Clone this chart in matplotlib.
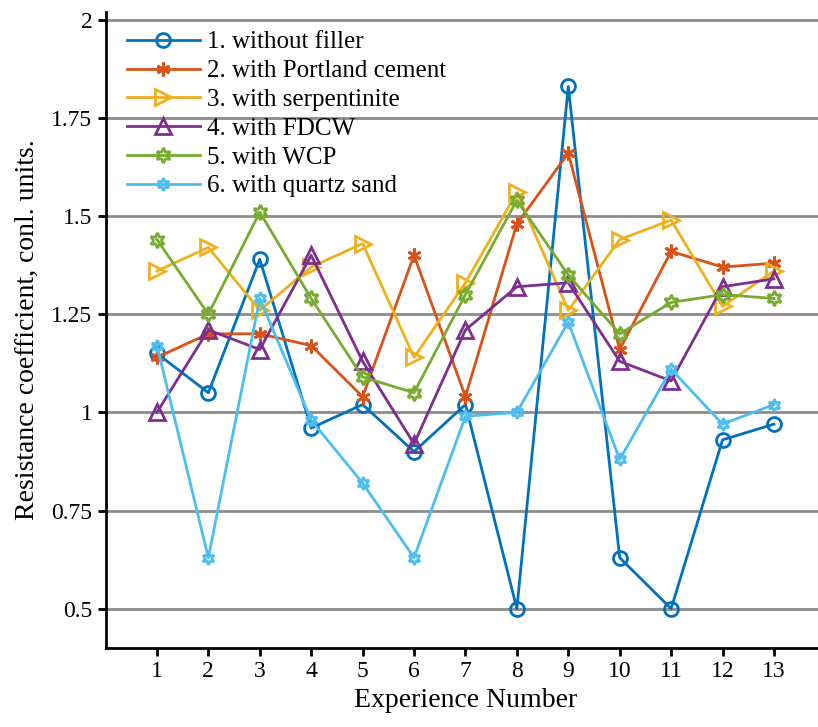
import numpy as np
import matplotlib
matplotlib.use('Agg')
import matplotlib.pyplot as plt

plt.rcParams['font.family'] = ['Liberation Serif', 'DejaVu Serif']

# data
experiments = list(range(1, 14))
without_filler = [1.15, 1.05, 1.39, 0.96, 1.02, 0.90, 1.02, 0.50, 1.83, 0.63, 0.50, 0.93, 0.97]
portland_cement = [1.14, 1.20, 1.20, 1.17, 1.04, 1.40, 1.04, 1.48, 1.66, 1.16, 1.41, 1.37, 1.38]
serpentinite = [1.36, 1.42, 1.26, 1.37, 1.43, 1.14, 1.33, 1.56, 1.26, 1.44, 1.49, 1.27, 1.36]
fdcw = [1.00, 1.21, 1.16, 1.40, 1.13, 0.92, 1.21, 1.32, 1.33, 1.13, 1.08, 1.32, 1.34]
wcp = [1.44, 1.25, 1.51, 1.29, 1.09, 1.05, 1.30, 1.54, 1.35, 1.20, 1.28, 1.30, 1.29]
quartz_sand = [1.17, 0.63, 1.29, 0.98, 0.82, 0.63, 0.99, 1.00, 1.23, 0.88, 1.11, 0.97, 1.02]

labels = ['1. without filler', '2. with Portland cement', '3. with serpentinite',
          '4. with FDCW', '5. with WCP', '6. with quartz sand']
yticks = [0.5, 0.75, 1, 1.25, 1.5, 1.75, 2]
ytick_labels = ['0.5', '0.75', '1', '1.25', '1.5', '1.75', '2']

series = [without_filler, portland_cement, serpentinite, fdcw, wcp, quartz_sand]
colors = ['#0072BD', '#D95319', '#EDB120', '#7E2F8E', '#77AC30', '#4DBEEE']
markers = ['o', (6, 2, 0), '>', '^', (6, 1, 0), (6, 1, 0)]
msizes = [10, 10, 12, 12, 11, 9]

fig = plt.figure(figsize=(8.18, 7.27), dpi=100)
ax = fig.add_axes([0.129, 0.1087, 0.88, 0.875])

for y, c, m, ms, lab in zip(series, colors, markers, msizes, labels):
    ax.plot(experiments, y, color=c, marker=m, markersize=ms, markerfacecolor='none',
            markeredgecolor=c, markeredgewidth=2, linewidth=2, label=lab)

ax.set_xlim(0, 14)
ax.set_ylim(0.4, 2.02)
ax.set_xticks(experiments)
ax.set_yticks(yticks)
ax.set_yticklabels(ytick_labels)
ax.yaxis.grid(True, color='#8c8c8c', linewidth=2)
ax.set_axisbelow(True)

for s in ['top', 'right']:
    ax.spines[s].set_visible(False)
for s in ['left', 'bottom']:
    ax.spines[s].set_linewidth(2)
ax.tick_params(direction='out', length=6, width=2, labelsize=17)

ax.set_xlabel('Experience Number', fontsize=20, labelpad=4)
ax.set_ylabel('Resistance coefficient, conl. units.', fontsize=20, labelpad=8)

ax.legend(loc='upper left', bbox_to_anchor=(127 / 818, 1 - 31 / 727),
          bbox_transform=fig.transFigure, frameon=False, fontsize=18,
          borderpad=0, borderaxespad=0, labelspacing=0.25, handlelength=2.9,
          handletextpad=0.3)

fig.savefig('out.png', dpi=100)
